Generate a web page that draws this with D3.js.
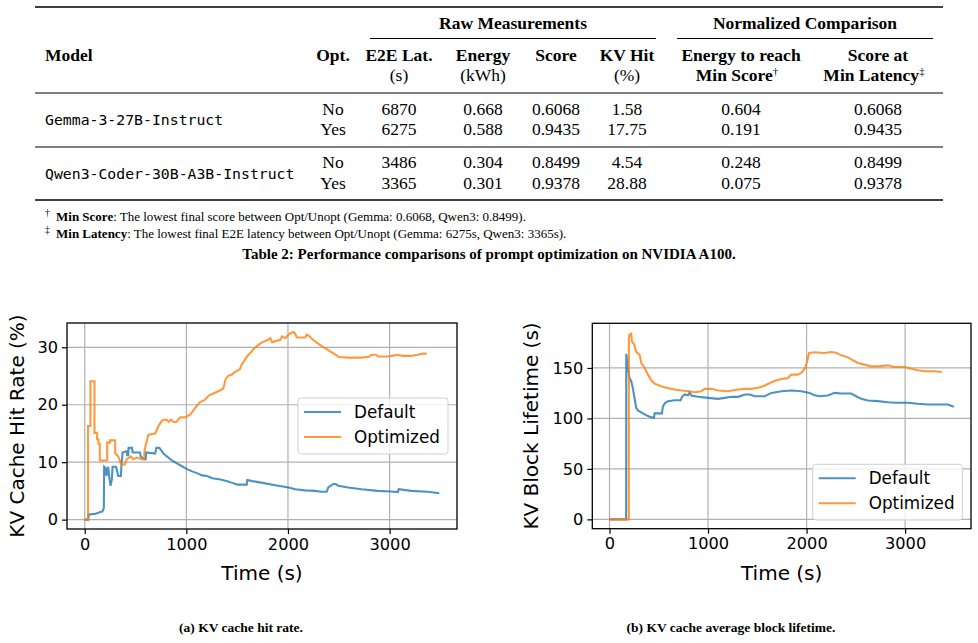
<!DOCTYPE html>
<html><head><meta charset="utf-8">
<script src="https://cdn.jsdelivr.net/npm/d3@7"></script>
<style>
html,body{margin:0;padding:0;background:#fff;}
svg{display:block;}
</style></head>
<body>
<svg id="fig" width="978" height="643"></svg>
<script>
// ---------------- Table data ----------------
const models = ["Gemma-3-27B-Instruct", "Qwen3-Coder-30B-A3B-Instruct"];
const optLabels = ["No", "Yes"];
const e2eLatency = [["6870", "6275"], ["3486", "3365"]];
const energyKWh = [["0.668", "0.588"], ["0.304", "0.301"]];
const scores = [["0.6068", "0.9435"], ["0.8499", "0.9378"]];
const kvHitPct = [["1.58", "17.75"], ["4.54", "28.88"]];
const energyToReach = [["0.604", "0.191"], ["0.248", "0.075"]];
const scoreAtMinLat = [["0.6068", "0.9435"], ["0.8499", "0.9378"]];
const groupHeaders = ["Raw Measurements", "Normalized Comparison"];
const colHeaders1 = ["Opt.", "E2E Lat.", "Energy", "Score", "KV Hit", "Energy to reach", "Score at"];
const colHeaders2 = ["", "(s)", "(kWh)", "", "(%)", "Min Score", "Min Latency"];
const footnotes = [
  ["\u2020", "Min Score", ": The lowest final score between Opt/Unopt (Gemma: 0.6068, Qwen3: 0.8499)."],
  ["\u2021", "Min Latency", ": The lowest final E2E latency between Opt/Unopt (Gemma: 6275s, Qwen3: 3365s)."]
];
const tableCaption = "Table 2: Performance comparisons of prompt optimization on NVIDIA A100.";

// ---------------- Chart data ----------------
const seriesNames = ["Default", "Optimized"];
const hitRateDefault = [[0,0],[35,0],[40,0.9],[100,1.0],[148,1.3],[175,1.45],[188,2.0],[191,9.2],[205,9.0],[214,7.6],[225,8.6],[231,9.2],[241,7.5],[254,5.9],[267,7.0],[274,9.2],[307,9.2],[320,8.4],[330,7.6],[356,7.6],[363,10.0],[373,11.7],[412,11.9],[418,11.2],[428,11.2],[432,12.5],[465,12.5],[472,11.7],[544,11.7],[551,11.0],[584,10.5],[600,10.5],[604,11.7],[693,11.5],[705,12.5],[735,12.5],[775,11.5],[808,11.0],[858,10.3],[907,9.8],[957,9.3],[1007,8.8],[1056,8.4],[1106,8.1],[1155,7.7],[1204,7.6],[1254,7.2],[1337,7.0],[1403,6.7],[1452,6.4],[1502,6.1],[1594,6.1],[1600,6.9],[1650,6.7],[1749,6.4],[1876,6.0],[2006,5.6],[2072,5.3],[2169,5.1],[2267,5.0],[2332,4.85],[2381,4.85],[2397,5.6],[2423,5.9],[2446,6.2],[2469,6.2],[2495,5.9],[2593,5.6],[2723,5.3],[2886,5.0],[3016,4.9],[3081,4.8],[3091,5.3],[3212,5.0],[3375,4.85],[3489,4.6]];
const hitRateOptimized = [[0,0],[33,0],[33,16.3],[56,16.3],[56,24.1],[96,24.1],[96,15.1],[122,15.1],[122,14.0],[135,14.0],[135,13.2],[148,13.2],[148,10.3],[221,10.3],[221,13.4],[248,13.4],[248,13.8],[300,13.8],[300,11.6],[330,11.0],[346,10.2],[363,9.6],[395,9.6],[412,10.5],[452,11.0],[478,10.5],[511,10.8],[561,10.5],[584,10.5],[590,12.2],[627,14.8],[693,15.0],[726,16.3],[759,17.2],[776,17.4],[808,17.4],[825,17.0],[848,17.4],[875,17.0],[900,17.0],[940,17.8],[990,17.8],[1007,18.0],[1040,18.3],[1073,19.1],[1106,19.9],[1139,20.5],[1178,20.8],[1221,21.6],[1270,22.0],[1320,22.4],[1363,22.8],[1386,24.4],[1409,25.0],[1452,25.3],[1469,25.6],[1528,26.2],[1541,26.9],[1568,27.6],[1601,28.5],[1634,29.1],[1667,29.8],[1716,30.5],[1749,30.9],[1805,31.3],[1827,31.6],[1844,30.9],[1925,31.3],[1941,31.9],[1974,31.6],[2006,32.2],[2039,32.6],[2062,32.6],[2088,31.7],[2169,31.7],[2186,32.2],[2208,32.0],[2234,31.5],[2283,30.8],[2332,30.2],[2381,29.7],[2430,29.1],[2479,28.6],[2502,28.3],[2593,28.2],[2723,28.2],[2804,28.4],[2821,28.7],[2870,28.7],[2886,28.4],[2984,28.4],[3049,28.6],[3081,28.7],[3130,28.5],[3212,28.5],[3277,28.7],[3326,28.9],[3365,28.9]];
const lifetimeDefault = [[0,0],[169,0],[170,164],[186,150],[203,140],[220,137],[237,130],[254,120],[271,110.5],[288,108],[322,106],[356,104],[407,101.6],[451,100.7],[458,105],[532,105],[542,112],[566,115.5],[593,117],[661,118],[722,118],[736,121.4],[763,123.7],[797,123],[814,126],[830,122.7],[898,121.4],[1000,120.4],[1102,119.4],[1170,120.4],[1237,121.4],[1305,121.4],[1373,123.7],[1424,123.7],[1475,122],[1576,122],[1644,125.3],[1746,127],[1845,127.6],[1946,127],[2030,125.3],[2081,123],[2132,122],[2216,122.7],[2284,125.3],[2352,124.7],[2453,124.7],[2504,122],[2554,119.4],[2622,117.8],[2723,117.1],[2825,116],[2909,115.5],[3028,115.5],[3129,114.5],[3230,113.8],[3433,113.8],[3494,111.5]];
const lifetimeOptimized = [[0,0],[196,0],[197,181],[203,183],[215,183],[220,185],[227,176],[247,174],[271,166],[305,163],[322,155],[356,150],[390,143.4],[424,137.8],[458,134.5],[525,132],[593,130],[661,128.6],[729,127.6],[797,127],[864,126],[932,127],[966,129.3],[1034,129.3],[1102,127.6],[1203,127],[1305,128.6],[1373,129.3],[1441,129.3],[1508,130.3],[1576,132.6],[1644,135.9],[1695,137.8],[1746,139],[1811,140],[1845,143.4],[1912,143.4],[1953,145.7],[1986,150],[2007,156.6],[2024,164.8],[2081,165.5],[2183,164.8],[2250,165.8],[2301,165],[2352,162.5],[2419,160.5],[2470,157.6],[2520,155],[2588,153.3],[2656,151.6],[2723,151.6],[2825,152.6],[2892,151],[2994,151],[3061,149.3],[3129,147.7],[3196,146.7],[3298,146.7],[3372,146]];
const xTicks = [0, 1000, 2000, 3000];
const hitTicks = [0, 10, 20, 30];
const lifeTicks = [0, 50, 100, 150];
const subCaptions = ["(a) KV cache hit rate.", "(b) KV cache average block lifetime."];

// ---------------- Drawing ----------------
const svg = d3.select("#fig");
svg.append("rect").attr("width", 978).attr("height", 643).attr("fill", "#fff");

const SERIF = "'Liberation Serif', 'DejaVu Serif', serif";
const MONO = "'DejaVu Sans Mono', 'Liberation Mono', monospace";
const SANS = "'DejaVu Sans', sans-serif";

const T = svg.append("g").attr("font-family", SERIF).attr("fill", "#000");
function rule(x1, x2, y, w) {
  T.append("line").attr("x1", x1).attr("x2", x2).attr("y1", y).attr("y2", y)
    .attr("stroke", "#000").attr("stroke-width", w);
}
function txt(x, y, s, anchor, opts = {}) {
  return T.append("text").attr("x", x).attr("y", y).attr("text-anchor", anchor)
    .attr("font-size", opts.size || 17.5).attr("font-weight", opts.bold ? "bold" : "normal")
    .attr("font-family", opts.family || SERIF).text(s);
}

rule(35, 943, 7, 1.6);
// group headers
const groupX = [513, 805];
const groupRules = [[370, 656], [677, 933]];
groupHeaders.forEach((g, i) => {
  txt(groupX[i], 29, g, "middle", {bold: true});
  rule(groupRules[i][0], groupRules[i][1], 38.5, 1);
});
// column headers
const colX = [333, 399, 483, 556, 627, 741, 878];
txt(45, 61, "Model", "start", {bold: true});
colHeaders1.forEach((h, i) => txt(colX[i], 61, h, "middle", {bold: true}));
colHeaders2.forEach((h, i) => {
  if (!h) return;
  const isBold = i >= 5;
  const t = txt(colX[i] - (isBold ? 4 : 0), 81, null, "middle", {bold: isBold});
  t.append("tspan").text(h);
  if (i === 5) t.append("tspan").attr("font-size", 11).attr("font-weight", "normal").attr("dy", -6).text("\u2020");
  if (i === 6) t.append("tspan").attr("font-size", 11).attr("font-weight", "normal").attr("dy", -6).text("\u2021");
});
rule(35, 943, 93, 1);
const rowY = [[115, 135], [168, 189]];
const nameY = [125, 179];
const colsData = [e2eLatency, energyKWh, scores, kvHitPct, energyToReach, scoreAtMinLat];
models.forEach((m, g) => {
  txt(45, nameY[g], m, "start", {family: MONO, size: 14.8});
  optLabels.forEach((o, r) => {
    txt(colX[0], rowY[g][r], o, "middle");
    colsData.forEach((arr, c) => txt(colX[c + 1], rowY[g][r], arr[g][r], "middle"));
  });
});
rule(35, 943, 147, 1);
rule(35, 943, 200, 1.6);
// footnotes
const fnY = [221, 238];
footnotes.forEach((f, i) => {
  const t = T.append("text").attr("x", 45).attr("y", fnY[i]).attr("font-size", 13);
  t.append("tspan").attr("font-size", 9.5).attr("dy", -5).text(f[0]);
  t.append("tspan").attr("x", 56).attr("dy", 5).attr("font-weight", "bold").text(f[1]);
  t.append("tspan").text(f[2]);
});
txt(489, 259, tableCaption, "middle", {bold: true, size: 15});

// ---------------- Charts ----------------
const colors = ["#1f77b4", "#ff7f0e"];
function padDomain(vals) {
  const lo = d3.min(vals), hi = d3.max(vals), m = (hi - lo) * 0.05;
  return [lo - m, hi + m];
}
function chart(cfg) {
  const g = svg.append("g").attr("font-family", SANS);
  const all = cfg.series.flat();
  const x = d3.scaleLinear().domain(padDomain(all.map(d => d[0]))).range([cfg.left, cfg.right]);
  const y = d3.scaleLinear().domain(padDomain(all.map(d => d[1]))).range([cfg.bottom, cfg.top]);
  // grid
  g.append("g").selectAll("line").data(xTicks).join("line")
    .attr("x1", d => x(d)).attr("x2", d => x(d)).attr("y1", cfg.top).attr("y2", cfg.bottom)
    .attr("stroke", "#b0b0b0").attr("stroke-width", 1.2);
  g.append("g").selectAll("line").data(cfg.yTicks).join("line")
    .attr("y1", d => y(d)).attr("y2", d => y(d)).attr("x1", cfg.left).attr("x2", cfg.right)
    .attr("stroke", "#b0b0b0").attr("stroke-width", 1.2);
  // lines
  const line = d3.line().x(d => x(d[0])).y(d => y(d[1]));
  cfg.series.forEach((s, i) => {
    g.append("path").datum(s).attr("d", line).attr("fill", "none")
      .attr("stroke", colors[i]).attr("stroke-opacity", 0.8).attr("stroke-width", 2.1)
      .attr("stroke-linejoin", "miter");
  });
  // frame
  g.append("rect").attr("x", cfg.left).attr("y", cfg.top)
    .attr("width", cfg.right - cfg.left).attr("height", cfg.bottom - cfg.top)
    .attr("fill", "none").attr("stroke", "#000").attr("stroke-width", 1.3);
  // axes
  const xa = g.append("g").attr("transform", `translate(0,${cfg.bottom})`)
    .call(d3.axisBottom(x).tickValues(xTicks).tickSize(5).tickPadding(4).tickFormat(d3.format("d")));
  const ya = g.append("g").attr("transform", `translate(${cfg.left},0)`)
    .call(d3.axisLeft(y).tickValues(cfg.yTicks).tickSize(5).tickPadding(4).tickFormat(d3.format("d")));
  [xa, ya].forEach(a => {
    a.select(".domain").remove();
    a.selectAll(".tick line").attr("stroke", "#000").attr("stroke-width", 1.2);
    a.selectAll(".tick text").attr("font-size", 16.2).attr("font-family", SANS).attr("fill", "#000");
  });
  // axis labels
  g.append("text").attr("x", (cfg.left + cfg.right) / 2).attr("y", 580).attr("text-anchor", "middle")
    .attr("font-size", 20).text("Time (s)");
  g.append("text").attr("transform", `translate(${cfg.ylabX},${(cfg.top + cfg.bottom) / 2}) rotate(-90)`)
    .attr("text-anchor", "middle").attr("dominant-baseline", "central").attr("font-size", 20).text(cfg.ylabel);
  // legend
  const L = cfg.legend;
  g.append("rect").attr("x", L.x).attr("y", L.y).attr("width", L.w).attr("height", L.h)
    .attr("rx", 3).attr("fill", "#fff").attr("fill-opacity", 0.8).attr("stroke", "#d0d0d0").attr("stroke-width", 1);
  seriesNames.forEach((n, i) => {
    const yy = L.y + 14 + i * 25;
    g.append("line").attr("x1", L.x + 6).attr("x2", L.x + 43).attr("y1", yy).attr("y2", yy)
      .attr("stroke", colors[i]).attr("stroke-opacity", 0.8).attr("stroke-width", 2.1);
    g.append("text").attr("x", L.x + 56).attr("y", yy).attr("dominant-baseline", "central")
      .attr("font-size", 16.8).text(n);
  });
  // caption
  svg.append("text").attr("x", cfg.capX).attr("y", 632).attr("text-anchor", "middle")
    .attr("font-family", SERIF).attr("font-weight", "bold").attr("font-size", 13.5).text(cfg.caption);
}

chart({
  series: [hitRateDefault, hitRateOptimized], left: 67, right: 457, top: 323, bottom: 529,
  yTicks: hitTicks, ylabel: "KV Cache Hit Rate (%)", ylabX: 17,
  legend: {x: 298, y: 398, w: 150, h: 56}, caption: subCaptions[0], capX: 241
});
chart({
  series: [lifetimeDefault, lifetimeOptimized], left: 592.3, right: 971, top: 323.3, bottom: 528.7,
  yTicks: lifeTicks, ylabel: "KV Block Lifetime (s)", ylabX: 531,
  legend: {x: 812.7, y: 464.3, w: 149.6, h: 55.7}, caption: subCaptions[1], capX: 731
});
</script>
</body></html>
